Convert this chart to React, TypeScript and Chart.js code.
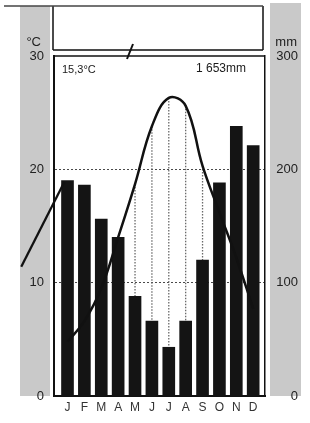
import React, { useEffect, useRef } from "react";
import { Chart, registerables } from "chart.js";

Chart.register(...registerables);

const months = ["J", "F", "M", "A", "M", "J", "J", "A", "S", "O", "N", "D"];
const precipitation = [190, 186, 156, 140, 88, 66, 43, 66, 120, 188, 238, 221];
const temperature = [4.8, 6.6, 9.5, 14.0, 18.7, 23.8, 26.3, 25.6, 20.3, 16.2, 12.2, 7.7];
const leadInX = [-2.74, -0.18];
const leadInTemp = [11.4, 18.9];
const tempTicks = [0, 10, 20, 30];
const precipTicks = [0, 100, 200, 300];
const meanTempLabel = "15,3°C";
const totalPrecipLabel = "1 653mm";
const tempUnit = "°C";
const precipUnit = "mm";

const FONT = "'Liberation Sans', Arial, sans-serif";

const decorPlugin = {
  id: "decor",
  beforeDraw(chart: any) {
    const { ctx, chartArea: a } = chart;
    ctx.save();
    ctx.fillStyle = "#c9c9c9";
    ctx.fillRect(a.left - 34, 6, 30, a.bottom - 6);
    ctx.fillRect(a.right + 5, 3, 31, a.bottom - 3);
    ctx.restore();
  },
  beforeDatasetsDraw(chart: any) {
    const { ctx } = chart;
    const xs = chart.scales.x;
    const yt = chart.scales.y;
    const yp = chart.scales.y2;
    ctx.save();
    ctx.strokeStyle = "#6a6a6a";
    ctx.lineWidth = 1.3;
    ctx.setLineDash([1.5, 1.5]);
    temperature.forEach((t, i) => {
      if (t * 10 > precipitation[i] + 5) {
        const x = xs.getPixelForValue(i);
        ctx.beginPath();
        ctx.moveTo(x, yt.getPixelForValue(t));
        ctx.lineTo(x, yp.getPixelForValue(precipitation[i]));
        ctx.stroke();
      }
    });
    ctx.restore();
  },
  afterDraw(chart: any) {
    const { ctx, chartArea: a } = chart;
    const yt = chart.scales.y;
    const yp = chart.scales.y2;
    ctx.save();
    ctx.strokeStyle = "#111";
    ctx.lineWidth = 1.5;
    ctx.beginPath();
    ctx.moveTo(a.left, a.top);
    ctx.lineTo(a.right, a.top);
    ctx.stroke();
    ctx.beginPath();
    ctx.moveTo(a.left - 1, a.top - 6);
    ctx.lineTo(a.left - 1, 6);
    ctx.moveTo(a.right - 2, 6);
    ctx.lineTo(a.right - 2, a.top - 6);
    ctx.moveTo(a.left - 1, a.top - 6);
    ctx.lineTo(a.right - 2, a.top - 6);
    ctx.stroke();
    ctx.strokeStyle = "#444";
    ctx.beginPath();
    ctx.moveTo(4, 6);
    ctx.lineTo(a.right - 2, 6);
    ctx.stroke();
    ctx.strokeStyle = "#111";
    ctx.lineWidth = 2;
    ctx.beginPath();
    ctx.moveTo(a.left + 73, a.top + 3);
    ctx.lineTo(a.left + 79, a.top - 12);
    ctx.stroke();
    ctx.fillStyle = "#222";
    ctx.font = `13px ${FONT}`;
    ctx.textBaseline = "middle";
    ctx.textAlign = "right";
    ctx.fillText(tempUnit, a.left - 13, yt.getPixelForValue(30) - 14);
    ctx.fillText(precipUnit, a.right + 32, yp.getPixelForValue(300) - 14);
    ctx.fillStyle = "#1a1a1a";
    ctx.font = `11px ${FONT}`;
    ctx.textAlign = "left";
    ctx.fillText(meanTempLabel, a.left + 8, a.top + 14);
    ctx.font = `12px ${FONT}`;
    ctx.textAlign = "right";
    ctx.fillText(totalPrecipLabel, a.right - 19, a.top + 13);
    ctx.restore();
  },
};

export default function App() {
  const ref = useRef<HTMLCanvasElement | null>(null);

  useEffect(() => {
    if (!ref.current) return;
    const chart = new Chart(ref.current, {
      type: "bar",
      data: {
        datasets: [
          {
            type: "line",
            label: "Temperatur",
            data: temperature.map((t, i) => ({ x: i, y: t })),
            yAxisID: "y",
            xAxisID: "x",
            borderColor: "#111",
            borderWidth: 2.5,
            tension: 0.4,
            pointRadius: 0,
            fill: false,
            order: 0,
          } as any,
          {
            type: "line",
            label: "lead",
            data: leadInX.map((x, i) => ({ x, y: leadInTemp[i] })),
            yAxisID: "y",
            xAxisID: "x",
            borderColor: "#111",
            borderWidth: 2.3,
            pointRadius: 0,
            fill: false,
            clip: false,
            order: 0,
          } as any,
          {
            type: "bar",
            label: "Niederschlag",
            data: precipitation.map((p, i) => ({ x: i, y: p })),
            yAxisID: "y2",
            xAxisID: "x",
            backgroundColor: "#141414",
            barThickness: 12,
            order: 1,
          } as any,
        ],
      },
      options: {
        animation: false,
        responsive: false,
        maintainAspectRatio: false,
        layout: { padding: { left: 0, right: 12, top: 56, bottom: 0 } },
        plugins: { legend: { display: false }, tooltip: { enabled: false } },
        scales: {
          x: {
            type: "linear",
            offset: false,
            min: -0.8,
            max: 11.7,
            afterBuildTicks: (s: any) => {
              s.ticks = months.map((_, i) => ({ value: i }));
            },
            afterFit: (s: any) => {
              s.height = 27;
            },
            grid: { display: false, drawTicks: false, offset: false },
            border: { display: true, color: "#111", width: 2 },
            ticks: {
              padding: 4,
              color: "#333",
              font: { family: FONT, size: 12 },
              maxRotation: 0,
              autoSkip: false,
              callback: (v: any) => months[Math.round(Number(v))] ?? "",
            },
          },
          y: {
            type: "linear",
            position: "left",
            min: 0,
            max: 30,
            afterBuildTicks: (s: any) => {
              s.ticks = tempTicks.map((v) => ({ value: v }));
            },
            afterFit: (s: any) => {
              s.width = 54;
            },
            grid: {
              drawTicks: false,
              lineWidth: 1,
              color: (c: any) =>
                c.tick && (c.tick.value === 10 || c.tick.value === 20) ? "#4a4a4a" : "rgba(0,0,0,0)",
            },
            border: { display: true, color: "#111", width: 2, dash: [2, 2] },
            ticks: {
              padding: 10,
              color: "#222",
              font: { family: FONT, size: 13 },
            },
          },
          y2: {
            type: "linear",
            position: "right",
            min: 0,
            max: 300,
            afterBuildTicks: (s: any) => {
              s.ticks = precipTicks.map((v) => ({ value: v }));
            },
            afterFit: (s: any) => {
              s.width = 33;
            },
            grid: { drawOnChartArea: false, drawTicks: false },
            border: { display: true, color: "#111", width: 1.5 },
            ticks: {
              crossAlign: "far",
              padding: 4,
              color: "#222",
              font: { family: FONT, size: 13 },
            },
          },
        },
      },
      plugins: [decorPlugin],
    } as any);
    return () => chart.destroy();
  }, []);

  return (
    <div style={{ position: "fixed", left: 0, top: 0, width: 310, height: 423, background: "#fff" }}>
      <canvas ref={ref} width={310} height={423} style={{ display: "block" }} />
    </div>
  );
}
